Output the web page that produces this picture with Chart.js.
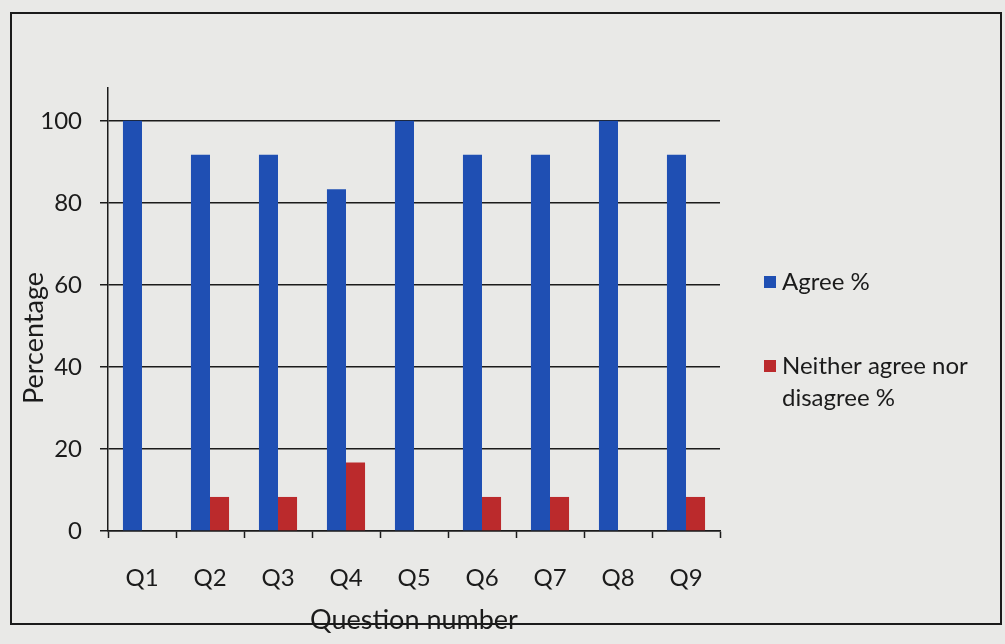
<!DOCTYPE html>
<html>
<head>
<meta charset="utf-8">
<script src="https://cdn.jsdelivr.net/npm/chart.js@4"></script>
<style>
  html, body { margin: 0; padding: 0; background: #e6e6e4; }
  #wrap { width: 1005px; height: 644px; position: relative; }
</style>
</head>
<body>
<div id="wrap"><canvas id="c" width="1005" height="644"></canvas></div>
<script>
// Survey responses per question
const questions = ['Q1', 'Q2', 'Q3', 'Q4', 'Q5', 'Q6', 'Q7', 'Q8', 'Q9'];
const agreePct = [100, 91.7, 91.7, 83.3, 100, 91.7, 91.7, 100, 91.7];
const neitherPct = [0, 8.3, 8.3, 16.7, 0, 8.3, 8.3, 0, 8.3];
const seriesNames = ['Agree %', 'Neither agree nor disagree %'];
const yTickValues = [0, 20, 40, 60, 80, 100];
const yTitle = 'Percentage';
const xTitle = 'Question number';

const INK = '#1b1b1b';
const FONT = 'Lato, "Open Sans", sans-serif';

// Paper background and the outer frame of the chart
const framePlugin = {
  id: 'frame',
  beforeDraw(chart) {
    const ctx = chart.ctx;
    ctx.save();
    ctx.fillStyle = '#e9e9e7';
    ctx.fillRect(0, 0, chart.width, chart.height);
    ctx.strokeStyle = INK;
    ctx.lineWidth = 2;
    ctx.strokeRect(11, 13, 990, 611);
    ctx.restore();
  }
};

// Vertical axis title, placed a little below the middle of the axis
const yTitlePlugin = {
  id: 'yTitle',
  afterDraw(chart, args, opts) {
    const ctx = chart.ctx;
    ctx.save();
    ctx.font = `${opts.fontSize}px ${FONT}`;
    ctx.fillStyle = INK;
    ctx.textAlign = 'center';
    ctx.textBaseline = 'middle';
    ctx.translate(opts.x, opts.y);
    ctx.rotate(-Math.PI / 2);
    ctx.fillText(opts.text, 0, 0);
    ctx.restore();
  }
};

// Right-hand legend with word-wrapped labels
const sideLegend = {
  id: 'sideLegend',
  afterDraw(chart, args, opts) {
    const ctx = chart.ctx;
    ctx.save();
    ctx.font = `${opts.fontSize}px ${FONT}`;
    ctx.textBaseline = 'middle';
    ctx.textAlign = 'left';
    chart.data.datasets.forEach((ds, i) => {
      const words = ds.label.split(' ');
      const lines = [];
      let cur = '';
      words.forEach(w => {
        const test = cur ? cur + ' ' + w : w;
        if (ctx.measureText(test).width > opts.maxWidth && cur) {
          lines.push(cur);
          cur = w;
        } else {
          cur = test;
        }
      });
      if (cur) lines.push(cur);
      const y0 = opts.top + i * opts.itemGap;
      ctx.fillStyle = ds.backgroundColor;
      ctx.fillRect(opts.left, y0 - 6, 12, 12);
      ctx.fillStyle = INK;
      lines.forEach((ln, k) => {
        ctx.fillText(ln, opts.left + 18, y0 + k * opts.lineGap);
      });
    });
    ctx.restore();
  }
};

new Chart(document.getElementById('c'), {
  type: 'bar',
  data: {
    labels: questions,
    datasets: [
      { label: seriesNames[0], data: agreePct, backgroundColor: '#1f4fb3' },
      { label: seriesNames[1], data: neitherPct, backgroundColor: '#bb2a2c' }
    ]
  },
  options: {
    responsive: false,
    animation: false,
    devicePixelRatio: 1,
    layout: { padding: { left: 0, top: 88, right: 285, bottom: 0 } },
    datasets: { bar: { barPercentage: 1, categoryPercentage: 0.56 } },
    plugins: {
      legend: { display: false },
      tooltip: { enabled: false },
      yTitle: { text: yTitle, x: 34, y: 338, fontSize: 27 },
      sideLegend: { left: 764, top: 282, itemGap: 84, lineGap: 32, fontSize: 24, maxWidth: 215 }
    },
    scales: {
      x: {
        afterFit(scale) { scale.height = 113; },
        grid: { drawOnChartArea: false, drawTicks: true, tickLength: 7, tickColor: INK, tickWidth: 1.5, offset: true },
        border: { display: true, color: INK, width: 1.5 },
        ticks: { color: INK, font: { family: FONT, size: 24 }, padding: 26 },
        title: {
          display: true, text: xTitle, color: INK,
          font: { family: FONT, size: 27 }, padding: { top: 0, bottom: 8 }
        }
      },
      y: {
        min: 0,
        max: 108,
        afterFit(scale) { scale.width = 108; },
        afterBuildTicks(scale) { scale.ticks = yTickValues.map(v => ({ value: v })); },
        grid: { color: INK, lineWidth: 1.5, drawTicks: true, tickLength: 8, tickColor: INK },
        border: { display: true, color: INK, width: 1.5 },
        ticks: { color: INK, font: { family: FONT, size: 24 }, padding: 18 }
      }
    }
  },
  plugins: [framePlugin, yTitlePlugin, sideLegend]
});
</script>
</body>
</html>
